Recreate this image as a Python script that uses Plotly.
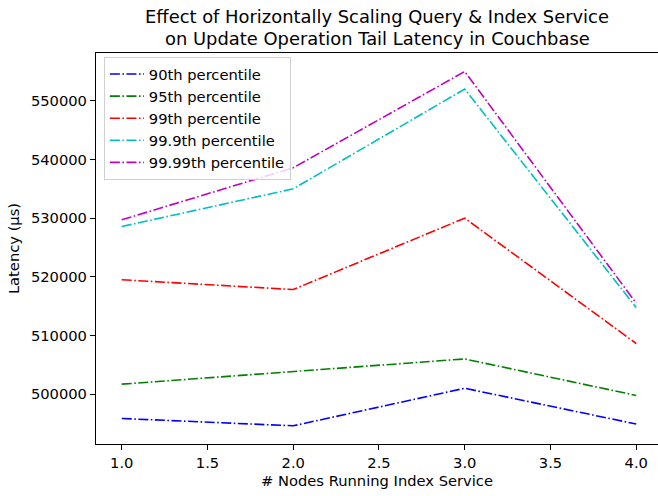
import plotly.graph_objects as go

nodes = [1, 2, 3, 4]
p90 = [495850, 494600, 501000, 494900]
p95 = [501700, 503800, 506000, 499780]
p99 = [519500, 517830, 530000, 508630]
p999 = [528570, 535000, 552000, 514760]
p9999 = [529710, 538580, 555000, 515500]

series = [
    ("90th percentile", p90, "#0000ff"),
    ("95th percentile", p95, "#008000"),
    ("99th percentile", p99, "#ff0000"),
    ("99.9th percentile", p999, "#00bfbf"),
    ("99.99th percentile", p9999, "#bf00bf"),
]

title_lines = [
    "Effect of Horizontally Scaling Query & Index Service",
    "on Update Operation Tail Latency in Couchbase",
]

FONT = "DejaVu Sans"
TICK = 14.7
dash = "10px,2.5px,1.6px,2.5px"

fig = go.Figure()
for name, vals, color in series:
    fig.add_trace(go.Scatter(
        x=nodes, y=vals, mode="lines", name=name,
        line=dict(color=color, width=1.6, dash=dash),
    ))

# two-line title placed above the axes
for i, line in enumerate(title_lines):
    fig.add_annotation(
        text=line, xref="paper", yref="paper",
        x=(377 - 96) / 562, xanchor="center",
        y=1 + (53 - 16 - 22.5 * i) / 391, yanchor="middle",
        showarrow=False,
        font=dict(family=FONT, size=17.9, color="black"),
    )

fig.update_layout(
    width=658, height=496,
    margin=dict(l=96, r=0, t=53, b=52),
    paper_bgcolor="white", plot_bgcolor="white",
    font=dict(family=FONT, size=TICK, color="black"),
    showlegend=True,
    legend=dict(
        x=0.014, y=0.99, xanchor="left", yanchor="top",
        bgcolor="rgba(255,255,255,0.8)", bordercolor="#d0d0d0", borderwidth=1,
        font=dict(family=FONT, size=TICK, color="black"),
        itemwidth=34, tracegroupgap=0,
    ),
)

fig.update_xaxes(
    range=[0.85, 4.127],
    showgrid=False, zeroline=False,
    showline=True, linecolor="black", linewidth=1.2, mirror=True,
    ticks="outside", ticklen=5, tickcolor="black", tickwidth=1,
    tickvals=[1.0, 1.5, 2.0, 2.5, 3.0, 3.5, 4.0],
    ticktext=["1.0", "1.5", "2.0", "2.5", "3.0", "3.5", "4.0"],
    tickfont=dict(family=FONT, size=TICK, color="black"),
    title=dict(text="# Nodes Running Index Service", standoff=5,
               font=dict(family=FONT, size=TICK, color="black")),
)
fig.update_yaxes(
    range=[491500, 558150],
    showgrid=False, zeroline=False,
    showline=True, linecolor="black", linewidth=1.2, mirror=False,
    ticks="outside", ticklen=5, tickcolor="black", tickwidth=1,
    tickvals=[500000, 510000, 520000, 530000, 540000, 550000],
    tickformat="d",
    tickfont=dict(family=FONT, size=TICK, color="black"),
    title=dict(text="Latency (μs)", standoff=7,
               font=dict(family=FONT, size=TICK, color="black")),
)

fig.write_html("out.html")
